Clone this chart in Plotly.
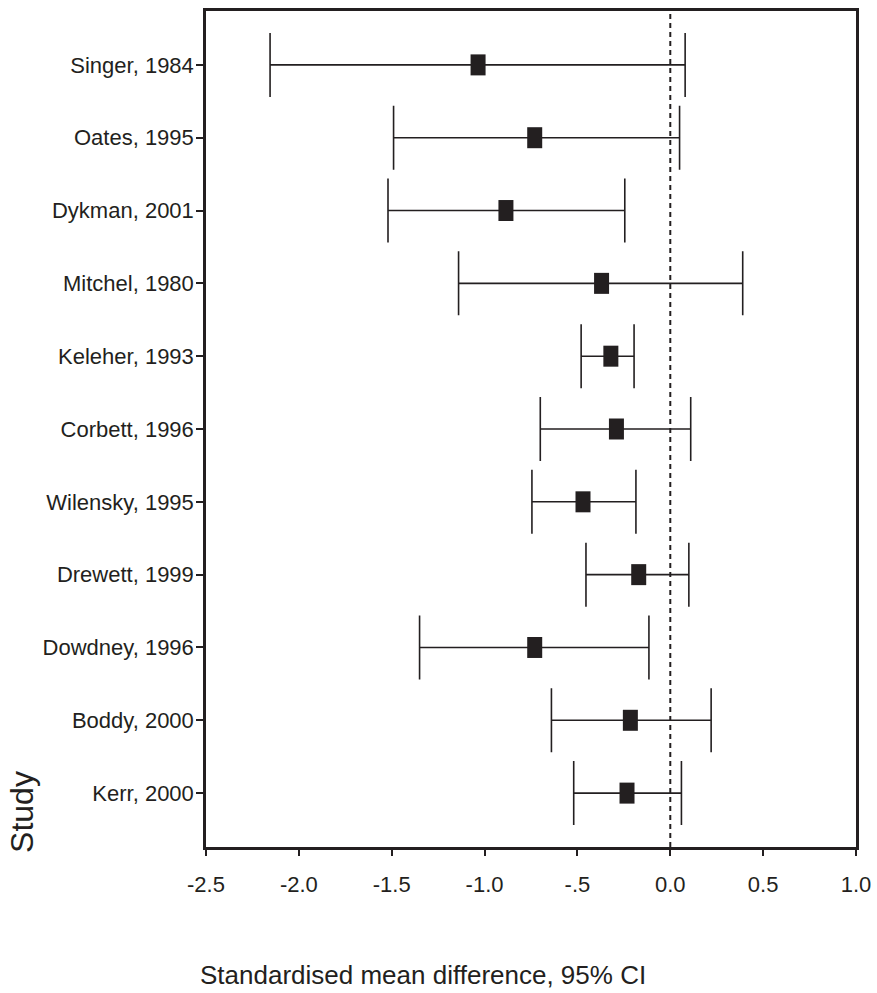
import plotly.graph_objects as go

studies = ["Singer, 1984", "Oates, 1995", "Dykman, 2001", "Mitchel, 1980", "Keleher, 1993",
           "Corbett, 1996", "Wilensky, 1995", "Drewett, 1999", "Dowdney, 1996", "Boddy, 2000",
           "Kerr, 2000"]
smd = [-1.035, -0.73, -0.885, -0.37, -0.32, -0.29, -0.47, -0.17, -0.73, -0.215, -0.233]
ci_low = [-2.155, -1.49, -1.52, -1.14, -0.48, -0.70, -0.745, -0.454, -1.35, -0.64, -0.52]
ci_high = [0.08, 0.05, -0.245, 0.39, -0.195, 0.11, -0.185, 0.10, -0.115, 0.22, 0.06]
x_ticks = [-2.5, -2.0, -1.5, -1.0, -0.5, 0.0, 0.5, 1.0]
x_ticktext = ["-2.5", "-2.0", "-1.5", "-1.0", "-.5", "0.0", "0.5", "1.0"]

INK = "#231f20"
FONT = "Liberation Sans, Arial, sans-serif"

ypos = list(range(len(studies)))
err_plus = [h - m for h, m in zip(ci_high, smd)]
err_minus = [m - l for m, l in zip(smd, ci_low)]

fig = go.Figure()
fig.add_trace(go.Scatter(
    x=smd, y=ypos, mode="markers",
    marker=dict(symbol="line-ns", size=15, color=INK, line=dict(color=INK, width=15)),
    error_x=dict(type="data", symmetric=False, array=err_plus, arrayminus=err_minus,
                 color=INK, thickness=1.6, width=32),
    showlegend=False, hoverinfo="skip",
))

fig.add_shape(type="line", xref="x", yref="paper", x0=0, x1=0, y0=0, y1=1,
              line=dict(color=INK, width=2, dash="5px,4px"), layer="below")

fig.update_layout(
    width=877, height=993,
    margin=dict(l=206, r=21, t=11, b=146, autoexpand=False),
    paper_bgcolor="white", plot_bgcolor="white",
    font=dict(family=FONT, color=INK, size=22),
    xaxis=dict(range=[-2.5, 1.0], tickvals=x_ticks, ticktext=x_ticktext,
               showgrid=False, zeroline=False, showline=True, linecolor=INK, linewidth=2.5,
               mirror=True, ticks="outside", ticklen=6, tickwidth=2, tickcolor=INK,
               tickfont=dict(family=FONT, size=22, color=INK), ticklabelstandoff=10),
    yaxis=dict(range=[10.74, -0.74], tickvals=ypos, ticktext=studies,
               showgrid=False, zeroline=False, showline=True, linecolor=INK, linewidth=2.5,
               mirror=True, ticks="outside", ticklen=7, tickwidth=2, tickcolor=INK,
               tickfont=dict(family=FONT, size=22, color=INK), ticklabelstandoff=-2),
    annotations=[
        dict(text="Standardised mean difference, 95% CI", xref="paper", yref="paper",
             x=0.3346, y=-0.153, xanchor="center", yanchor="middle", showarrow=False,
             font=dict(family=FONT, size=26, color=INK)),
        dict(text="Study", xref="paper", yref="paper", textangle=-90,
             x=-0.283, y=0.042, xanchor="center", yanchor="middle", showarrow=False,
             font=dict(family=FONT, size=32, color=INK)),
    ],
)

fig.write_html("out.html", config={"displayModeBar": False},
               post_script="document.body.style.margin='0';document.documentElement.style.overflow='hidden';")
